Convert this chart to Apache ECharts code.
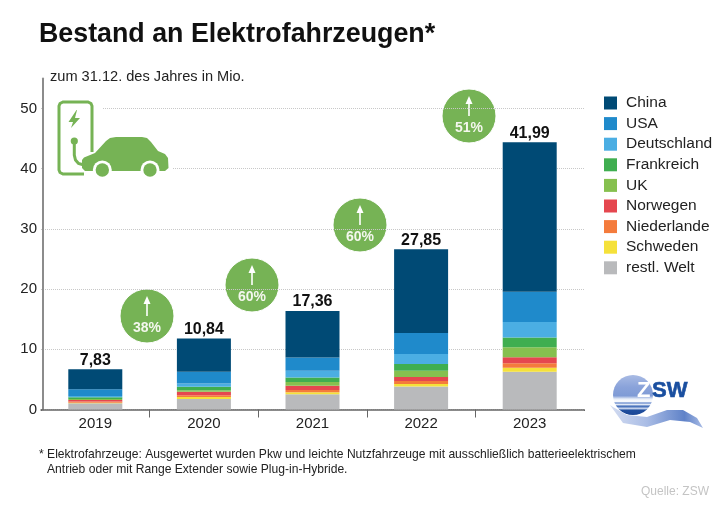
<!DOCTYPE html>
<html>
<head>
<meta charset="utf-8">
<style>html,body{margin:0;background:#fff}#main{width:728px;height:515px}</style>
<script src="https://cdn.jsdelivr.net/npm/echarts@6/dist/echarts.min.js"></script>
</head>
<body>
<div id="main"></div>
<script>
var years = ['2019', '2020', '2021', '2022', '2023'];
var totals = ['7,83', '10,84', '17,36', '27,85', '41,99'];
var growth = ['38%', '60%', '60%', '51%'];

var welt = [1.03, 1.75, 2.52, 3.8, 6.28];
var schweden = [0.1, 0.33, 0.33, 0.44, 0.66];
var niederlande = [0.2, 0.3, 0.38, 0.5, 0.73];
var norwegen = [0.25, 0.55, 0.72, 0.66, 1.0];
var uk = [0.17, 0.28, 0.6, 1.05, 1.65];
var frankreich = [0.28, 0.55, 0.78, 1.1, 1.66];
var deutschland = [0.2, 0.55, 1.1, 1.66, 2.55];
var usa = [1.15, 1.95, 2.2, 3.5, 5.05];
var china = [3.3, 5.55, 7.75, 13.9, 24.8];

var legendNames = ['China', 'USA', 'Deutschland', 'Frankreich', 'UK', 'Norwegen', 'Niederlande', 'Schweden', 'restl. Welt'];

var font = '"Liberation Sans", Arial, sans-serif';
var green = '#76b355';

function bar(name, data, color) {
    return {
        name: name,
        type: 'bar',
        stack: 'bestand',
        barWidth: 54,
        data: data,
        itemStyle: {color: color}
    };
}

var seriesList = [
    bar('restl. Welt', welt, '#b9babc'),
    bar('Schweden', schweden, '#f5e13a'),
    bar('Niederlande', niederlande, '#f47b3c'),
    bar('Norwegen', norwegen, '#e5474f'),
    bar('UK', uk, '#86c04f'),
    bar('Frankreich', frankreich, '#3fae50'),
    bar('Deutschland', deutschland, '#4baee3'),
    bar('USA', usa, '#1f8acb'),
    bar('China', china, '#004a75')
];
// Summe steht ueber dem obersten Segment
seriesList[8].label = {
    show: true,
    position: 'top',
    distance: 1,
    fontFamily: font,
    fontSize: 16,
    fontWeight: 'bold',
    color: '#111',
    formatter: function (p) { return totals[p.dataIndex]; }
};

function bubble(cx, cy, text) {
    return {
        type: 'group',
        z: 10,
        children: [
            {type: 'circle', shape: {cx: cx, cy: cy, r: 27}, style: {fill: green, stroke: '#fff', lineWidth: 1}},
            {type: 'line', shape: {x1: cx, y1: cy - 16, x2: cx, y2: cy}, style: {stroke: '#fff', lineWidth: 1.6}},
            {type: 'polygon', shape: {points: [[cx, cy - 20], [cx - 3.5, cy - 12], [cx + 3.5, cy - 12]]}, style: {fill: '#fff'}},
            {type: 'text', x: cx, y: cy + 12.5, style: {text: text, fill: '#f4f7ee', font: 'bold 14px ' + font, textAlign: 'center', textVerticalAlign: 'middle'}}
        ]
    };
}

function txt(x, y, text, size, color) {
    return {type: 'text', x: x, y: y, z: 10, style: {text: text, fill: color, font: size + 'px ' + font, textVerticalAlign: 'middle'}};
}

var chart = echarts.init(document.getElementById('main'));

chart.setOption({
    animation: false,
    backgroundColor: '#fff',
    title: {
        text: 'Bestand an Elektrofahrzeugen*',
        left: 34,
        top: 16,
        textStyle: {fontFamily: font, fontSize: 26.8, fontWeight: 'bold', color: '#111'}
    },
    legend: {
        orient: 'vertical',
        left: 599,
        top: 90,
        itemWidth: 13,
        itemHeight: 13,
        itemGap: 4.6,
        selectedMode: false,
        data: legendNames,
        icon: 'rect',
        textStyle: {fontFamily: font, fontSize: 15.5, color: '#222', padding: [0, 0, 0, 4]}
    },
    grid: {left: 41, width: 543, top: 78.4, height: 331.1},
    xAxis: {
        type: 'category',
        data: years,
        axisLine: {lineStyle: {color: '#666', width: 1.5}},
        axisTick: {show: true, length: 8, lineStyle: {color: '#666', width: 1}},
        axisLabel: {fontFamily: font, fontSize: 15, color: '#222', margin: 7}
    },
    yAxis: {
        type: 'value',
        min: 0,
        max: 55,
        interval: 10,
        offset: -2,
        axisLine: {show: true, lineStyle: {color: '#8c8c8c', width: 2}},
        axisTick: {show: false},
        axisLabel: {fontFamily: font, fontSize: 15, color: '#222', margin: 6, showMaxLabel: false},
        splitLine: {showMaxLine: false, lineStyle: {type: 'dotted', color: '#c8c8c8', width: 1}}
    },
    series: seriesList,
    graphic: [
        txt(50, 77, 'zum 31.12. des Jahres in Mio.', 14.6, '#222'),
        txt(39, 455, '* Elektrofahrzeuge: Ausgewertet wurden Pkw und leichte Nutzfahrzeuge mit ausschließlich batterieelektrischem', 12.1, '#222'),
        txt(47, 470, 'Antrieb oder mit Range Extender sowie Plug-in-Hybride.', 12.1, '#222'),
        txt(641, 491.5, 'Quelle: ZSW', 12, '#c4c4c4'),

        bubble(147, 316, growth[0]),
        bubble(252, 285, growth[1]),
        bubble(360, 225, growth[2]),
        bubble(469, 116, growth[3]),

        // Ladesaeule mit Auto, weisser Grund unterbricht die Gitterlinien
        {type: 'rect', z: 9, shape: {x: 45, y: 95, width: 58, height: 84}, style: {fill: '#fff'}},
        {type: 'rect', z: 9, shape: {x: 75, y: 130, width: 98, height: 49}, style: {fill: '#fff'}},
        {type: 'polyline', z: 10, shape: {points: [[92, 152], [92, 106], [91, 103.5], [88, 102], [63, 102], [60, 103.5], [59, 106], [59, 170], [60, 172.5], [63, 174], [84, 174]]}, style: {fill: 'none', stroke: green, lineWidth: 3}},
        {type: 'polygon', z: 10, shape: {points: [[76.5, 110], [68.5, 122], [73, 122], [71, 128], [80, 118], [75, 118], [77, 110]]}, style: {fill: green}},
        {type: 'circle', z: 10, shape: {cx: 74.3, cy: 141, r: 3.6}, style: {fill: green}},
        {type: 'polyline', z: 10, shape: {points: [[74.3, 141], [74.3, 155], [75.5, 160], [78.5, 163.5], [84, 165]]}, style: {fill: 'none', stroke: green, lineWidth: 3}},
        {type: 'polygon', z: 10, shape: {points: [[82, 160], [84, 157.5], [95, 153], [106, 141], [110, 138], [116, 137], [142, 137], [147, 138], [151, 142], [158, 151], [165, 154], [168, 158], [168.5, 168], [165, 171], [85, 171], [82, 168]]}, style: {fill: green}},
        {type: 'circle', z: 11, shape: {cx: 102.3, cy: 170, r: 9.5}, style: {fill: '#fff'}},
        {type: 'circle', z: 11, shape: {cx: 150, cy: 170, r: 9.5}, style: {fill: '#fff'}},
        {type: 'circle', z: 12, shape: {cx: 102.3, cy: 170, r: 6.7}, style: {fill: green}},
        {type: 'circle', z: 12, shape: {cx: 150, cy: 170, r: 6.7}, style: {fill: green}},

        // Enden der Achse ohne Teilstrich
        {type: 'rect', z: 9, shape: {x: 38, y: 411, width: 6, height: 9}, style: {fill: '#fff'}},
        {type: 'rect', z: 9, shape: {x: 581, y: 411, width: 6, height: 9}, style: {fill: '#fff'}},

        // ZSW Logo
        {type: 'circle', z: 10, shape: {cx: 633, cy: 395, r: 20}, style: {fill: {
            type: 'linear', x: 0, y: 0, x2: 0, y2: 1,
            colorStops: [
                {offset: 0, color: '#a9bbe4'}, {offset: 0.3, color: '#8aa3da'},
                {offset: 0.52, color: '#7f9bd6'}, {offset: 0.6, color: '#e8eef8'},
                {offset: 0.66, color: '#ffffff'}, {offset: 0.7, color: '#6f90cf'},
                {offset: 0.74, color: '#e8eef8'}, {offset: 0.78, color: '#3a66b4'},
                {offset: 0.84, color: '#c8d5ee'}, {offset: 0.88, color: '#1f4e9e'},
                {offset: 1, color: '#1a4696'}
            ]
        }}},
        {type: 'polygon', z: 11, shape: {points: [[610, 405], [613, 407], [627, 415], [647, 417], [667, 410], [683, 410], [697, 418], [703, 428], [690, 422], [670, 420], [647, 427], [623, 423]]}, style: {fill: {
            type: 'linear', x: 0, y: 0, x2: 1, y2: 0,
            colorStops: [{offset: 0, color: '#d3dcf1'}, {offset: 0.4, color: '#a9bce5'}, {offset: 0.8, color: '#5f82c8'}, {offset: 1, color: '#a9bce5'}]
        }}},
        {type: 'text', z: 12, x: 637, y: 391, style: {text: 'Z', fill: '#fff', font: 'bold 22px ' + font, textVerticalAlign: 'middle'}},
        {type: 'text', z: 12, x: 652, y: 391, style: {text: 'SW', fill: '#1a4fa0', stroke: '#1a4fa0', lineWidth: 0.6, font: 'bold 22px ' + font, textVerticalAlign: 'middle'}}
    ]
});
</script>
</body>
</html>
